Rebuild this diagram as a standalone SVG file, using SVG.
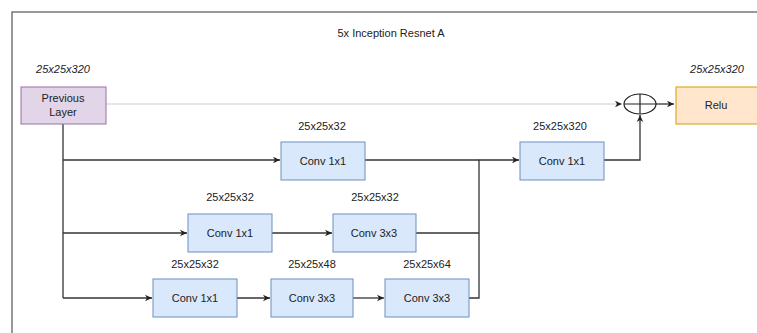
<svg xmlns="http://www.w3.org/2000/svg" width="757" height="333" viewBox="0 0 757 333">
<style>
text{font-family:"Liberation Sans",Arial,sans-serif;font-size:11px;fill:#222;text-anchor:middle}
.it{font-style:italic}
.conv{fill:#dae8fc;stroke:#6c8ebf;stroke-width:1}
.ln{fill:none;stroke:#333;stroke-width:1.3}
</style>
<defs>
<marker id="ah" markerWidth="8" markerHeight="8" refX="7" refY="4" orient="auto" markerUnits="userSpaceOnUse">
<path d="M0,0.8 L7,4 L0,7.2 L2,4 Z" fill="#222"/>
</marker>
</defs>
<rect width="757" height="333" fill="#fff"/>
<rect x="12" y="12" width="780" height="340" fill="none" stroke="#555" stroke-width="1.2"/>
<text x="391" y="37">5x Inception Resnet A</text>
<g id="connectors">
<path d="M106,104 H622" fill="none" stroke="#ccc" stroke-width="1" marker-end="url(#ah)"/>
<path d="M656,104 H674" class="ln" marker-end="url(#ah)"/>
<path d="M63,124 V298" class="ln"/>
<path d="M63,160 H280" class="ln" marker-end="url(#ah)"/>
<path d="M63,233 H187" class="ln" marker-end="url(#ah)"/>
<path d="M63,298 H152" class="ln" marker-end="url(#ah)"/>
<path d="M272,233 H332" class="ln" marker-end="url(#ah)"/>
<path d="M237,298 H270" class="ln" marker-end="url(#ah)"/>
<path d="M353,298 H384" class="ln" marker-end="url(#ah)"/>
<path d="M365,160 H479" class="ln"/>
<path d="M416,233 H479" class="ln"/>
<path d="M469,298 H479 V160 H519" class="ln" marker-end="url(#ah)"/>
<path d="M604,160 H640 V115" class="ln" marker-end="url(#ah)"/>
</g>
<g id="prev">
<rect x="21" y="87" width="85" height="37" fill="#e1d5e7" stroke="#9673a6" stroke-width="1"/>
<text x="63" y="102">Previous</text>
<text x="63" y="116">Layer</text>
<text x="63" y="73" class="it">25x25x320</text>
</g>
<g id="sum">
<ellipse cx="640" cy="104" rx="16" ry="10" fill="#fff" stroke="#222" stroke-width="1.2"/>
<path d="M624,104 H656 M640,94 V114" stroke="#222" stroke-width="1.2"/>
</g>
<g id="relu">
<rect x="676" y="87" width="82" height="37" fill="#ffe6cc" stroke="#d79b00" stroke-width="1"/>
<text x="716" y="109">Relu</text>
<text x="717" y="73" class="it">25x25x320</text>
</g>
<g id="conv_a">
<rect x="281" y="142" width="84" height="38" class="conv"/>
<text x="323" y="165">Conv 1x1</text>
<text x="322" y="130">25x25x32</text>
</g>
<g id="conv_final">
<rect x="520" y="142" width="84" height="38" class="conv"/>
<text x="562" y="165">Conv 1x1</text>
<text x="560" y="130">25x25x320</text>
</g>
<g id="conv_b1">
<rect x="188" y="214" width="84" height="38" class="conv"/>
<text x="230" y="237">Conv 1x1</text>
<text x="230" y="201">25x25x32</text>
</g>
<g id="conv_b2">
<rect x="333" y="214" width="83" height="38" class="conv"/>
<text x="374" y="237">Conv 3x3</text>
<text x="375" y="201">25x25x32</text>
</g>
<g id="conv_c1">
<rect x="153" y="279" width="84" height="38" class="conv"/>
<text x="195" y="302">Conv 1x1</text>
<text x="195" y="268">25x25x32</text>
</g>
<g id="conv_c2">
<rect x="271" y="279" width="82" height="38" class="conv"/>
<text x="312" y="302">Conv 3x3</text>
<text x="312" y="268">25x25x48</text>
</g>
<g id="conv_c3">
<rect x="385" y="279" width="84" height="38" class="conv"/>
<text x="427" y="302">Conv 3x3</text>
<text x="427" y="268">25x25x64</text>
</g>
</svg>
